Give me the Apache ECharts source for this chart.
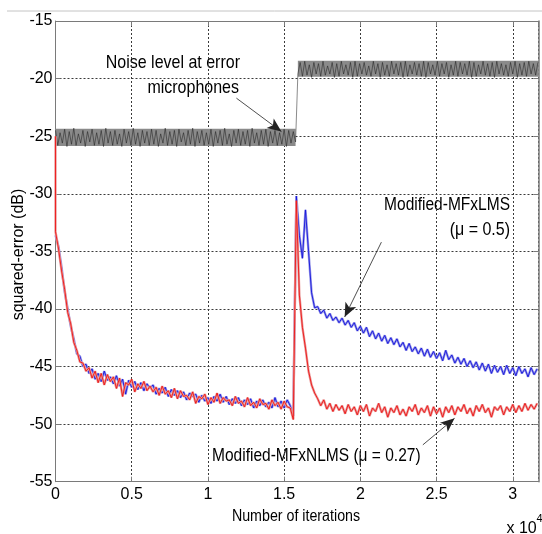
<!DOCTYPE html>
<html><head><meta charset="utf-8">
<script src="https://cdn.jsdelivr.net/npm/echarts@6/dist/echarts.min.js"></script>
<style>html,body{margin:0;padding:0;background:#fff}#c{width:542px;height:534px}</style>
</head><body><div id="c"></div>
<script>
// ---- data ----
const yTicks = [-55, -50, -45, -40, -35, -30, -25, -20, -15];
const xTickLabels = ['0', '0.5', '1', '1.5', '2', '2.5', '3'];
const xMax = 31700;            // iterations shown
const curveStep = 200;         // iterations between samples of the error curves
const noiseStep = 150;         // iterations between samples of the noise curve

// Noise level at error microphones (dB), sample i at i*noiseStep
const noiseLevel = [
-24.5,-25.8,-24.7,-25.6,-24.4,-25.9,-24.6,-25.7,-24.3,-25.8,
-24.8,-25.6,-24.5,-25.9,-24.6,-25.5,-24.4,-25.8,-24.7,-25.7,
-24.5,-25.9,-24.3,-25.6,-24.6,-25.8,-24.5,-25.7,-24.8,-25.9,
-24.4,-25.6,-24.6,-25.8,-24.3,-25.7,-24.7,-25.9,-24.5,-25.6,
-24.6,-25.8,-24.4,-25.7,-24.5,-25.9,-24.8,-25.6,-24.3,-25.8,
-24.6,-25.7,-24.5,-25.9,-24.4,-25.5,-24.7,-25.8,-24.5,-25.7,
-24.3,-25.9,-24.6,-25.6,-24.5,-25.8,-24.7,-25.7,-24.4,-25.9,
-24.6,-25.6,-24.5,-25.8,-24.3,-25.7,-24.8,-25.9,-24.5,-25.6,
-24.4,-25.8,-24.6,-25.7,-24.5,-25.9,-24.3,-25.6,-24.7,-25.8,
-24.5,-25.7,-24.4,-25.9,-24.6,-25.6,-24.5,-25.8,-24.7,-25.7,
-24.4,-25.9,-24.5,-25.6,-24.6,-25.5,
-19.6,-18.6,-19.8,-18.5,-19.7,-18.8,-19.9,-18.6,-19.6,-18.7,
-19.8,-18.5,-19.7,-18.9,-19.6,-18.6,-19.9,-18.7,-19.8,-18.5,
-19.6,-18.8,-19.7,-18.6,-19.9,-18.5,-19.8,-18.7,-19.6,-18.6,
-19.7,-18.9,-19.8,-18.5,-19.6,-18.7,-19.9,-18.6,-19.7,-18.8,
-19.8,-18.5,-19.6,-18.7,-19.7,-18.6,-19.9,-18.5,-19.8,-18.8,
-19.6,-18.6,-19.7,-18.7,-19.8,-18.5,-19.9,-18.6,-19.6,-18.8,
-19.7,-18.5,-19.8,-18.7,-19.6,-18.6,-19.9,-18.8,-19.7,-18.5,
-19.8,-18.6,-19.6,-18.7,-19.7,-18.5,-19.9,-18.6,-19.8,-18.8,
-19.6,-18.5,-19.7,-18.7,-19.8,-18.6,-19.9,-18.5,-19.6,-18.7,
-19.7,-18.8,-19.8,-18.6,-19.6,-18.5,-19.9,-18.7,-19.7,-18.6,
-19.8,-18.5,-19.6,-18.7,-19.7,-18.6
];
// noise envelope: [fromIter, toIter, low dB, high dB]
const noiseBands = [[0, 15750, -25.85, -24.35], [15900, 31700, -19.85, -18.45]];

// Modified-MFxLMS (mu = 0.5), sample i at i*curveStep
const mfxlms = [
-33.6,-34.6,-36.4,-38.5,-40.0,-41.5,-42.6,-43.9,-44.1,-45.0,
-44.8,-45.6,-45.2,-46.1,-45.6,-46.3,-45.4,-46.2,-45.9,-46.5,
-45.8,-46.7,-46.1,-47.4,-46.2,-46.8,-46.3,-47.0,-46.4,-47.1,
-46.5,-46.9,-46.6,-47.4,-46.9,-47.3,-46.8,-47.6,-47.0,-47.5,
-47.1,-47.7,-47.2,-47.9,-47.3,-47.6,-47.4,-48.1,-47.5,-48.0,
-47.7,-48.2,-47.6,-48.0,-47.4,-48.1,-47.6,-48.3,-47.8,-48.2,
-47.7,-48.4,-47.9,-48.3,-47.8,-48.6,-48.0,-48.4,-47.9,-48.5,
-48.1,-48.6,-47.7,-48.5,-48.0,-48.6,-47.9,-48.4,-49.3,
-30.2,-33.6,-35.6,-31.4,-35.0,-38.6,-39.9,-39.8,-40.4,-40.1,
-40.8,-40.4,-41.0,-40.7,-41.2,-40.8,-41.4,-41.0,-41.6,-41.2,
-41.9,-41.5,-42.1,-41.6,-42.4,-41.9,-42.6,-42.1,-42.8,-42.3,
-43.0,-42.5,-43.1,-42.6,-43.3,-42.9,-43.6,-43.0,-43.7,-43.3,
-43.9,-43.4,-44.1,-43.5,-44.2,-43.7,-44.3,-43.8,-44.5,-43.6,
-44.4,-44.0,-44.7,-44.2,-44.8,-44.3,-45.0,-44.5,-45.1,-44.6,
-45.3,-44.7,-45.4,-44.8,-45.6,-44.9,-45.5,-45.0,-45.7,-44.9,
-45.6,-45.1,-45.8,-45.0,-45.6,-45.2,-45.9,-45.1,-45.7,-45.2
];
// Modified-MFxNLMS (mu = 0.27), sample i at i*curveStep
const mfxnlmsStart = -25.0;
const mfxnlms = [
-33.3,-34.8,-36.7,-38.3,-40.3,-41.3,-42.9,-43.6,-44.6,-44.7,
-45.4,-45.1,-46.0,-45.4,-46.4,-45.6,-46.6,-45.7,-46.3,-45.9,
-46.9,-46.0,-47.6,-46.4,-46.6,-46.1,-47.2,-46.5,-46.9,-46.3,
-47.1,-46.7,-47.2,-46.8,-47.5,-46.7,-47.4,-47.1,-47.7,-46.9,
-47.8,-47.1,-47.6,-47.5,-47.9,-47.2,-48.2,-47.6,-47.8,-47.4,
-48.3,-47.7,-48.1,-47.3,-48.2,-47.7,-48.0,-47.9,-48.4,-47.6,
-48.2,-48.0,-48.5,-47.7,-48.4,-48.1,-48.6,-47.8,-48.3,-48.2,
-48.7,-47.9,-48.4,-48.1,-48.7,-48.0,-48.5,-48.6,-49.6,
-30.6,-38.8,-41.6,-43.4,-45.4,-46.6,-47.3,-47.8,-48.4,-47.9,
-48.7,-48.2,-48.9,-48.3,-48.8,-48.4,-49.1,-48.3,-48.9,-48.5,
-49.2,-48.4,-48.9,-48.3,-49.3,-48.6,-48.9,-48.2,-49.0,-48.5,
-49.4,-48.6,-49.0,-48.4,-49.2,-48.7,-49.3,-48.5,-48.9,-48.3,
-49.2,-48.6,-49.0,-48.4,-49.3,-48.5,-49.1,-48.6,-49.4,-48.5,
-49.0,-48.4,-49.2,-48.5,-48.9,-48.3,-49.1,-48.6,-49.3,-48.4,
-48.9,-48.3,-49.0,-48.6,-49.4,-48.5,-48.8,-48.4,-49.2,-48.5,
-48.9,-48.3,-49.0,-48.4,-48.9,-48.2,-48.8,-48.3,-48.7,-48.2
];
// annotation arrows [from, to] in (iterations, dB)
const arrowNoise = [[11870, -21.7], [14820, -24.6]];
const arrowLMS = [[21380, -34.2], [18970, -40.7]];
const arrowNLMS = [[24100, -51.8], [26180, -49.5]];

// ---- build ----
const noiseData = noiseLevel.map((v, i) => [i * noiseStep, v]);
const lmsData = mfxlms.map((v, i) => [i * curveStep, v]);
const nlmsData = [[0, mfxnlmsStart]].concat(mfxnlms.map((v, i) => [i * curveStep, v]));

const FONT = "'Liberation Sans', Arial, sans-serif";
const axisGray = '#7a7a7a';

function arrow(a) {
  return [{ coord: a[0] }, { coord: a[1] }];
}
function label(text, x, y, align, sx, sy, size) {
  return { type: 'text', silent: true, x: x, y: y, scaleX: sx, scaleY: sy,
    style: { text: text, font: size + 'px ' + FONT, fill: '#000', align: align, verticalAlign: 'middle' } };
}

const chart = echarts.init(document.getElementById('c'), null, { renderer: 'canvas' });
chart.setOption({
  animation: false,
  backgroundColor: '#ffffff',
  grid: { left: 55.5, right: 3.3, top: 21, bottom: 52.3, containLabel: false },
  xAxis: [{
    type: 'value', min: 0, max: xMax, interval: 5000,
    axisLine: { show: true, lineStyle: { color: axisGray, width: 1 } },
    axisTick: { show: true, inside: true, length: 5, lineStyle: { color: axisGray } },
    axisLabel: {
      show: true, showMaxLabel: false, color: '#000', fontSize: 16, fontFamily: FONT, margin: 5,
      formatter: (v) => xTickLabels[Math.round(v / 5000)] ?? ''
    },
    splitLine: { show: true, lineStyle: { color: '#3a3a3a', width: 1, type: [2, 2] } }
  }, {
    type: 'value', min: 0, max: xMax, interval: 5000, position: 'top',
    axisLine: { show: true, onZero: false, lineStyle: { color: axisGray, width: 1 } },
    axisTick: { show: true, inside: true, length: 5, lineStyle: { color: axisGray } },
    axisLabel: { show: false }, splitLine: { show: false }
  }],
  yAxis: [{
    type: 'value', min: -55, max: -15, interval: 5,
    axisLine: { show: true, onZero: false, lineStyle: { color: axisGray, width: 1 } },
    axisTick: { show: true, inside: true, length: 5, lineStyle: { color: axisGray } },
    axisLabel: { show: true, color: '#000', fontSize: 16, fontFamily: FONT, margin: 3 },
    splitLine: { show: true, lineStyle: { color: '#3a3a3a', width: 1, type: [2, 2] } }
  }, {
    type: 'value', min: -55, max: -15, interval: 5, position: 'right',
    axisLine: { show: true, onZero: false, lineStyle: { color: axisGray, width: 1.5 } },
    axisTick: { show: true, inside: true, length: 5, lineStyle: { color: axisGray } },
    axisLabel: { show: false }, splitLine: { show: false }
  }],
  series: [
    {
      type: 'custom', name: 'noiseBand', xAxisIndex: 0, yAxisIndex: 0,
      data: noiseBands, encode: { x: [0, 1], y: [2, 3] }, silent: true, z: 2,
      renderItem: function (params, api) {
        const p0 = api.coord([api.value(0), api.value(3)]);
        const p1 = api.coord([api.value(1), api.value(2)]);
        return { type: 'rect', shape: { x: p0[0], y: p0[1], width: p1[0] - p0[0], height: p1[1] - p0[1] },
                 style: { fill: '#8a8a8a' } };
      }
    },
    {
      type: 'line', name: 'noise', data: noiseData, showSymbol: false, symbol: 'none', silent: true, z: 3,
      lineStyle: { color: '#1a1a1a', width: 0.6, opacity: 0.85 }
    },
    {
      type: 'line', name: 'lmsHalo', data: lmsData, showSymbol: false, symbol: 'none', silent: true, z: 4,
      lineStyle: { color: '#9a9ae8', width: 2.4 }
    },
    {
      type: 'line', name: 'lms', data: lmsData, showSymbol: false, symbol: 'none', silent: true, z: 5,
      lineStyle: { color: '#1414dc', width: 0.9 }
    },
    {
      type: 'line', name: 'nlmsHalo', data: nlmsData, showSymbol: false, symbol: 'none', silent: true, z: 6,
      lineStyle: { color: '#e99a9a', width: 2.4 }
    },
    {
      type: 'line', name: 'nlms', data: nlmsData, showSymbol: false, symbol: 'none', silent: true, z: 7,
      lineStyle: { color: '#ee1414', width: 0.9 },
      markLine: {
        silent: true, symbol: ['none', 'arrow'], symbolSize: [9, 14],
        label: { show: false },
        lineStyle: { color: '#222', width: 0.8, type: 'solid' },
        emphasis: { disabled: true },
        data: [arrow(arrowNoise), arrow(arrowLMS), arrow(arrowNLMS)]
      }
    }
  ],
  graphic: [
    { type: 'line', silent: true, shape: { x1: 7, y1: 11, x2: 542, y2: 11 }, style: { stroke: '#c4c4c4', lineWidth: 1 } },
    label('Noise level at error', 240, 63, 'right', 1, 1.2, 16),
    label('microphones', 239, 87.5, 'right', 1, 1.2, 16),
    label('Modified-MFxLMS', 510, 205, 'right', 0.97, 1.2, 16),
    label('(\u03bc = 0.5)', 510, 230, 'right', 1, 1.2, 16),
    label('Modified-MFxNLMS (\u03bc = 0.27)', 212, 456, 'left', 0.97, 1.2, 16),
    label('Number of iterations', 296, 517, 'center', 0.89, 1, 16),
    { type: 'text', silent: true, x: 18.5, y: 254.5, rotation: Math.PI / 2, style: { text: 'squared-error (dB)', font: '16px ' + FONT, fill: '#000', align: 'center', verticalAlign: 'middle' } },
    label('x 10', 506.5, 528.5, 'left', 1, 1, 16),
    label('4', 536.5, 518.5, 'left', 1, 1, 11)
  ]
});
</script></body></html>
